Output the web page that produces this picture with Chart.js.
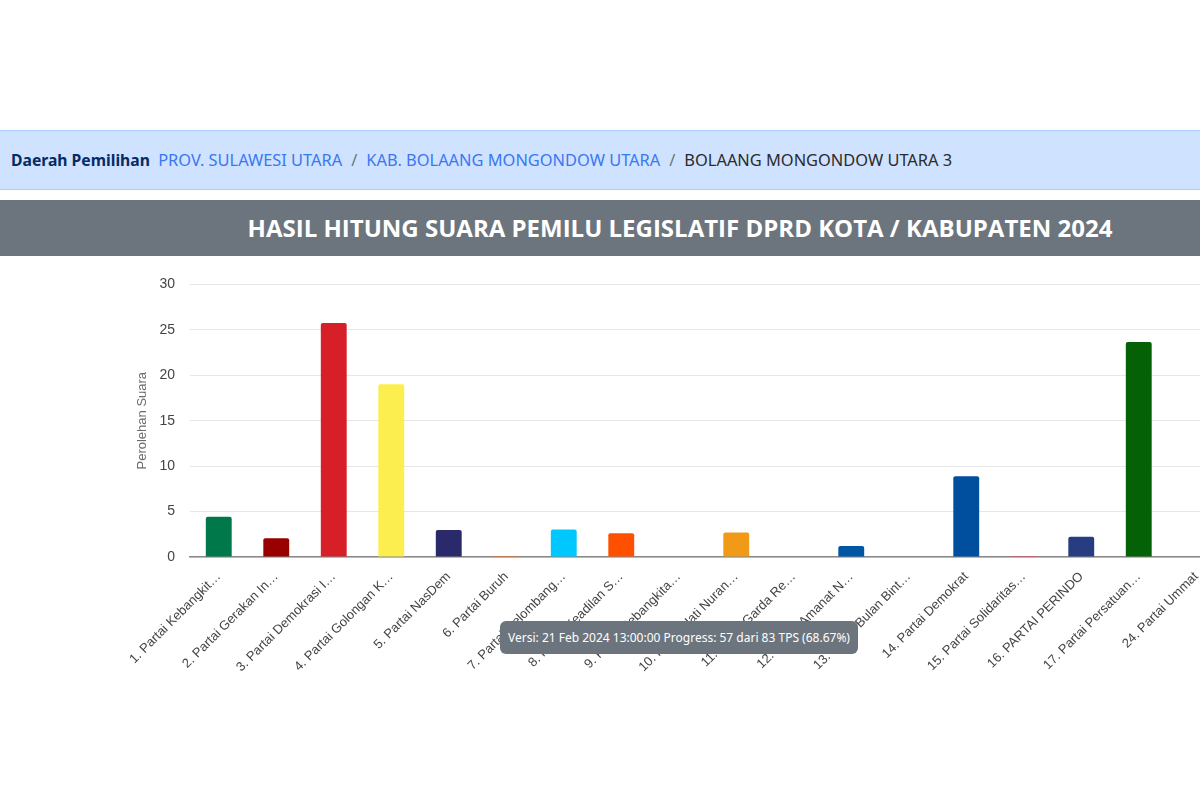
<!DOCTYPE html>
<html>
<head>
<meta charset="utf-8">
<script src="https://cdn.jsdelivr.net/npm/chart.js@4/dist/chart.umd.min.js"></script>
<style>
  html, body { margin: 0; padding: 0; background: #fff; overflow: hidden; }
  #page { position: relative; width: 1360px; height: 801px; }
  .crumb {
    position: absolute; top: 130px; left: 0; width: 1360px; height: 60px;
    background: #cfe2ff; border-top: 1px solid #a9cbfd; border-bottom: 1px solid #a9cbfd;
    font-family: "Noto Sans", "Open Sans", sans-serif; font-size: 16.4px;
    line-height: 58px; padding-left: 11px; box-sizing: border-box; color: #2b2b2b;
  }
  .crumb b { color: #052c65; margin-right: 4px; font-size: 15.7px; }
  .crumb a { color: #3a78f0; text-decoration: none; }
  .crumb .sep { color: #6c757d; margin: 0 9px; }
  .title {
    position: absolute; top: 200px; left: 0; width: 1360px; height: 56px;
    background: #6c757d; color: #fff; text-align: center;
    font-family: "Open Sans", "Noto Sans", sans-serif; font-weight: 700; font-size: 24px;
    line-height: 56px;
  }
  #chartBox { position: absolute; top: 261px; left: 0; }
  .versi {
    position: absolute; top: 621px; left: 500px; width: 358px; height: 33px;
    background: #6c757d; color: #fff; border-radius: 6px;
    font-family: "Noto Sans", "Open Sans", sans-serif; font-size: 12px;
    line-height: 33px; text-align: center;
  }
</style>
</head>
<body>
<div id="page">
  <div class="crumb"><b>Daerah Pemilihan</b> <a>PROV. SULAWESI UTARA</a><span class="sep">/</span><a>KAB. BOLAANG MONGONDOW UTARA</a><span class="sep">/</span>BOLAANG MONGONDOW UTARA 3</div>
  <div class="title">HASIL HITUNG SUARA PEMILU LEGISLATIF DPRD KOTA / KABUPATEN 2024</div>
  <div id="chartBox"><canvas id="chart" width="1360" height="440"></canvas></div>
  <div class="versi">Versi: 21 Feb 2024 13:00:00 Progress: 57 dari 83 TPS (68.67%)</div>
</div>
<script>
// partai (label dipotong seperti di grafik asli)
var partai = [
  "1. Partai Kebangkit\u2026", "2. Partai Gerakan In\u2026", "3. Partai Demokrasi I\u2026",
  "4. Partai Golongan K\u2026", "5. Partai NasDem", "6. Partai Buruh",
  "7. Partai Gelombang\u2026", "8. Partai Keadilan S\u2026", "9. Partai Kebangkita\u2026",
  "10. Partai Hati Nuran\u2026", "11. Partai Garda Re\u2026", "12. Partai Amanat N\u2026",
  "13. Partai Bulan Bint\u2026", "14. Partai Demokrat", "15. Partai Solidaritas\u2026",
  "16. PARTAI PERINDO", "17. Partai Persatuan\u2026", "24. Partai Ummat"
];

// perolehan suara (%)
var suara = [4.43, 2.05, 25.75, 19.0, 2.97, 0.1, 3.04, 2.6, 0, 2.7, 0, 1.2, 0, 8.9, 0.1, 2.23, 23.66, 0];

var warna = [
  "#00784a", "#990000", "#d61f26", "#fdee4f", "#29296b", "#e8702a",
  "#00c8ff", "#ff5000", "#8a1c1c", "#f09a18", "#b22222", "#0055a5",
  "#1f7a3a", "#004f9f", "#e8505b", "#283c82", "#056105", "#2e7d32"
];

var y_ticks = [0, 5, 10, 15, 20, 25, 30];

var ctx = document.getElementById("chart").getContext("2d");

var chart = new Chart(ctx, {
  type: 'bar',
  data: {
    labels: partai,
    datasets: [{
      data: suara,
      backgroundColor: warna,
      borderRadius: 2,
      borderSkipped: 'bottom',
      barPercentage: 0.45,
      categoryPercentage: 1.0
    }]
  },
  options: {
    responsive: false,
    animation: false,
    layout: {
      padding: { left: 130, right: 135, top: 6, bottom: 3 }
    },
    plugins: {
      legend: { display: false },
      tooltip: { enabled: false }
    },
    scales: {
      x: {
        grid: { display: false },
        border: { display: true, color: '#8a8a8a', width: 1.5 },
        ticks: {
          autoSkip: false,
          minRotation: 45,
          maxRotation: 45,
          padding: 4,
          color: '#444',
          font: { family: 'Liberation Sans, Arial, sans-serif', size: 13 }
        },
        afterFit: function (scale) { scale.height = 141; }
      },
      y: {
        min: 0,
        max: 30,
        afterBuildTicks: function (scale) {
          scale.ticks = y_ticks.map(function (v) { return { value: v }; });
        },
        grid: { color: '#e6e6e6', drawTicks: false },
        border: { display: false },
        ticks: {
          padding: 15,
          color: '#444',
          font: { family: 'Liberation Sans, Arial, sans-serif', size: 14 }
        },
        title: {
          display: true,
          text: 'Perolehan Suara',
          color: '#6b6b6b',
          padding: { top: 5, bottom: 0 },
          font: { family: 'Liberation Sans, Arial, sans-serif', size: 13 }
        },
        afterFit: function (scale) { scale.width = 60; }
      }
    }
  }
});
</script>
</body>
</html>
